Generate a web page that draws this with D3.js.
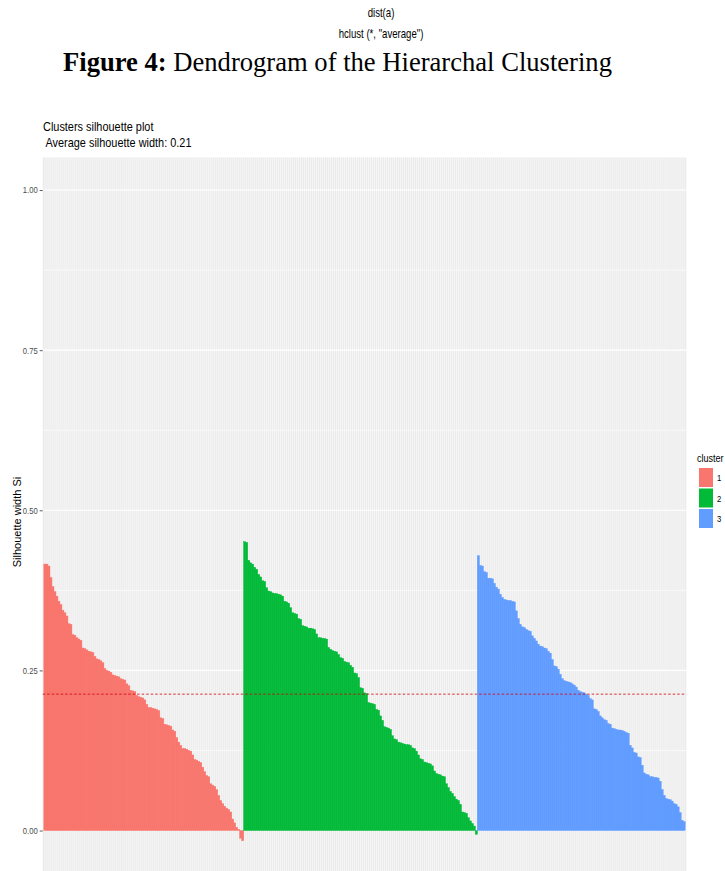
<!DOCTYPE html>
<html>
<head>
<meta charset="utf-8">
<script src="https://cdn.jsdelivr.net/npm/d3@7"></script>
<style>
  html, body { margin: 0; padding: 0; background: #ffffff; }
  svg { display: block; }
</style>
</head>
<body>
<svg id="chart" width="725" height="871"></svg>
<script>
// Silhouette widths per observation, sorted within each cluster
const silCluster1 = [
  0.416, 0.416, 0.413, 0.395, 0.381, 0.373, 0.366, 0.358, 0.353, 0.344,
  0.340, 0.335, 0.323, 0.322, 0.306, 0.305, 0.301, 0.299, 0.297, 0.285,
  0.284, 0.282, 0.280, 0.279, 0.278, 0.272, 0.268, 0.267, 0.265, 0.262,
  0.253, 0.250, 0.249, 0.247, 0.243, 0.242, 0.241, 0.240, 0.237, 0.236,
  0.235, 0.229, 0.226, 0.219, 0.218, 0.217, 0.211, 0.209, 0.208, 0.207,
  0.204, 0.197, 0.192, 0.192, 0.191, 0.190, 0.189, 0.187, 0.176, 0.175,
  0.166, 0.165, 0.164, 0.163, 0.157, 0.155, 0.145, 0.138, 0.133, 0.128,
  0.128, 0.127, 0.125, 0.124, 0.118, 0.111, 0.110, 0.108, 0.106, 0.099,
  0.092, 0.086, 0.084, 0.073, 0.071, 0.069, 0.064, 0.055, 0.047, 0.042,
  0.038, 0.035, 0.033, 0.029, 0.018, 0.012, 0.005, 0.002, -0.012, -0.016
];
const silCluster2 = [
  0.451, 0.450, 0.422, 0.418, 0.416, 0.411, 0.408, 0.400, 0.396, 0.390,
  0.389, 0.379, 0.374, 0.373, 0.371, 0.370, 0.370, 0.369, 0.368, 0.366,
  0.358, 0.357, 0.355, 0.348, 0.340, 0.339, 0.338, 0.331, 0.330, 0.320,
  0.319, 0.318, 0.316, 0.316, 0.315, 0.314, 0.307, 0.301, 0.301, 0.300,
  0.300, 0.299, 0.286, 0.283, 0.281, 0.280, 0.279, 0.275, 0.270, 0.269,
  0.264, 0.263, 0.262, 0.258, 0.255, 0.246, 0.245, 0.239, 0.223, 0.222,
  0.215, 0.214, 0.200, 0.199, 0.198, 0.197, 0.189, 0.188, 0.179, 0.172,
  0.162, 0.161, 0.160, 0.158, 0.148, 0.143, 0.142, 0.138, 0.137, 0.136,
  0.135, 0.134, 0.134, 0.133, 0.129, 0.128, 0.124, 0.118, 0.112, 0.111,
  0.107, 0.106, 0.105, 0.104, 0.101, 0.093, 0.089, 0.088, 0.087, 0.085,
  0.084, 0.073, 0.067, 0.061, 0.058, 0.053, 0.049, 0.047, 0.041, 0.029,
  0.028, 0.027, 0.020, 0.015, 0.011, 0.007, -0.006
];
const silCluster3 = [
  0.429, 0.414, 0.413, 0.404, 0.403, 0.394, 0.394, 0.393, 0.386, 0.380,
  0.377, 0.369, 0.364, 0.361, 0.360, 0.359, 0.359, 0.358, 0.357, 0.343,
  0.331, 0.322, 0.318, 0.317, 0.314, 0.312, 0.311, 0.304, 0.300, 0.296,
  0.291, 0.288, 0.287, 0.285, 0.284, 0.280, 0.277, 0.267, 0.257, 0.256,
  0.252, 0.244, 0.237, 0.234, 0.233, 0.232, 0.231, 0.229, 0.227, 0.224,
  0.219, 0.217, 0.216, 0.215, 0.213, 0.211, 0.206, 0.204, 0.190, 0.189,
  0.186, 0.179, 0.176, 0.173, 0.172, 0.167, 0.166, 0.160, 0.159, 0.158,
  0.157, 0.157, 0.156, 0.155, 0.153, 0.152, 0.133, 0.129, 0.122, 0.121,
  0.115, 0.114, 0.102, 0.090, 0.088, 0.087, 0.084, 0.084, 0.083, 0.083,
  0.082, 0.077, 0.064, 0.055, 0.050, 0.049, 0.048, 0.046, 0.042, 0.041,
  0.037, 0.028, 0.016, 0.014
];
const clusterLabels = ["1", "2", "3"];
const clusterColors = ["#F8766D", "#00BA38", "#619CFF"];
const yTickValues = [0, 0.25, 0.5, 0.75, 1];
const yTickLabels = ["0.00", "0.25", "0.50", "0.75", "1.00"];
const yMinorValues = [0.125, 0.375, 0.625, 0.875];

// Long format table, one row per observation
const rows = [];
[silCluster1, silCluster2, silCluster3].forEach((vals, ci) => {
  vals.forEach(v => rows.push({ id: "obs" + rows.length, cluster: clusterLabels[ci], sil: v }));
});
const avgSil = d3.mean(rows, d => d.sil);

const svg = d3.select("#chart");
const sans = "'Liberation Sans', Arial, sans-serif";
const serif = "'Liberation Serif', 'Times New Roman', serif";

// Condensed sans text, squeezed horizontally around its anchor point
function narrowText(parent, x, y, str, size, squeeze, anchor) {
  return parent.append("text")
    .attr("transform", `translate(${x},${y}) scale(${squeeze},1)`)
    .attr("text-anchor", anchor || "start")
    .attr("xml:space", "preserve")
    .style("font-family", sans).style("font-size", size + "px")
    .attr("fill", "#000").text(str);
}

// Header: dendrogram caption lines
narrowText(svg, 381, 17, "dist(a)", 12, 0.8, "middle");
narrowText(svg, 381, 38, "hclust (*, \"average\")", 12, 0.8, "middle");
const fig = svg.append("text").attr("x", 63).attr("y", 71)
  .style("font-family", serif).style("font-size", "26.6px").attr("fill", "#000");
fig.append("tspan").style("font-weight", "bold").text("Figure 4:");
fig.append("tspan").text(" Dendrogram of the Hierarchal Clustering");

// Panel geometry
const panel = { left: 42.7, right: 686.3, top: 157.5 };
const yLo = Math.min(0, d3.min(rows, d => d.sil)), yHi = 1;
const pad = (yHi - yLo) * 0.05;
const pxPerUnit = 640.5;
panel.bottom = panel.top + (yHi - yLo + 2 * pad) * pxPerUnit;

const x = d3.scaleBand()
  .domain(rows.map(d => d.id))
  .range([panel.left, panel.right])
  .paddingInner(0)
  .paddingOuter(0.6);
const y = d3.scaleLinear()
  .domain([yLo - pad, yHi + pad])
  .range([panel.bottom, panel.top]);
const color = d3.scaleOrdinal().domain(clusterLabels).range(clusterColors);

// Panel background and grid
svg.append("rect")
  .attr("x", panel.left).attr("y", panel.top)
  .attr("width", panel.right - panel.left).attr("height", panel.bottom - panel.top)
  .attr("fill", "#EBEBEB");
const grid = svg.append("g");
grid.selectAll("line.vgrid").data(rows).join("line")
  .attr("x1", d => x(d.id) + x.bandwidth() / 2).attr("x2", d => x(d.id) + x.bandwidth() / 2)
  .attr("y1", panel.top).attr("y2", panel.bottom)
  .attr("stroke", "#ffffff").attr("stroke-width", 0.55);
grid.selectAll("line.hminor").data(yMinorValues).join("line")
  .attr("x1", panel.left).attr("x2", panel.right)
  .attr("y1", d => y(d)).attr("y2", d => y(d))
  .attr("stroke", "#ffffff").attr("stroke-width", 0.6);
grid.selectAll("line.hmajor").data(yTickValues).join("line")
  .attr("x1", panel.left).attr("x2", panel.right)
  .attr("y1", d => y(d)).attr("y2", d => y(d))
  .attr("stroke", "#ffffff").attr("stroke-width", 1.1);

// Silhouette bars
svg.append("g").selectAll("rect").data(rows).join("rect")
  .attr("x", d => x(d.id) - x.step() * 0.05)
  .attr("width", x.step() * 1.1)
  .attr("y", d => y(Math.max(0, d.sil)))
  .attr("height", d => Math.abs(y(d.sil) - y(0)))
  .attr("fill", d => color(d.cluster))
  .attr("stroke", d => color(d.cluster))
  .attr("stroke-width", 0.4);

// Average silhouette width reference line
svg.append("line")
  .attr("x1", panel.left).attr("x2", panel.right)
  .attr("y1", y(avgSil)).attr("y2", y(avgSil))
  .attr("stroke", "#D0000A").attr("stroke-width", 0.8)
  .attr("stroke-dasharray", "2.5,2");

// Y axis
const yAxis = d3.axisLeft(y).tickValues(yTickValues)
  .tickFormat((d, i) => yTickLabels[i]).tickSize(3).tickPadding(2);
const ya = svg.append("g").attr("transform", `translate(${panel.left},0)`).call(yAxis);
ya.select(".domain").remove();
ya.selectAll(".tick line").attr("stroke", "#333333").attr("stroke-width", 0.8);
ya.selectAll(".tick text").attr("fill", "#4D4D4D")
  .style("font-family", sans).style("font-size", "9px")
  .attr("transform", "translate(-5,0) scale(0.85,1) translate(5,0)");

svg.append("text")
  .attr("transform", "translate(21,522) rotate(-90)")
  .attr("text-anchor", "middle")
  .style("font-family", sans).style("font-size", "11px").attr("fill", "#000")
  .text("Silhouette width Si");

// Titles
narrowText(svg, 43, 131, "Clusters silhouette plot", 13, 0.84);
narrowText(svg, 43, 147, " Average silhouette width: " + avgSil.toFixed(2), 13, 0.84);

// Legend
const legend = svg.append("g").attr("transform", "translate(697,0)");
narrowText(legend, 0, 462, "cluster", 11, 0.82);
legend.selectAll("rect.key").data(clusterLabels).join("rect")
  .attr("x", 2).attr("y", (d, i) => 468 + i * 20.5)
  .attr("width", 14).attr("height", 19)
  .attr("fill", d => color(d));
legend.selectAll("text.key").data(clusterLabels).join("text")
  .attr("transform", (d, i) => `translate(20,${481 + i * 20.5}) scale(0.85,1)`)
  .style("font-family", sans).style("font-size", "9px").attr("fill", "#000")
  .text(d => d);
</script>
</body>
</html>
